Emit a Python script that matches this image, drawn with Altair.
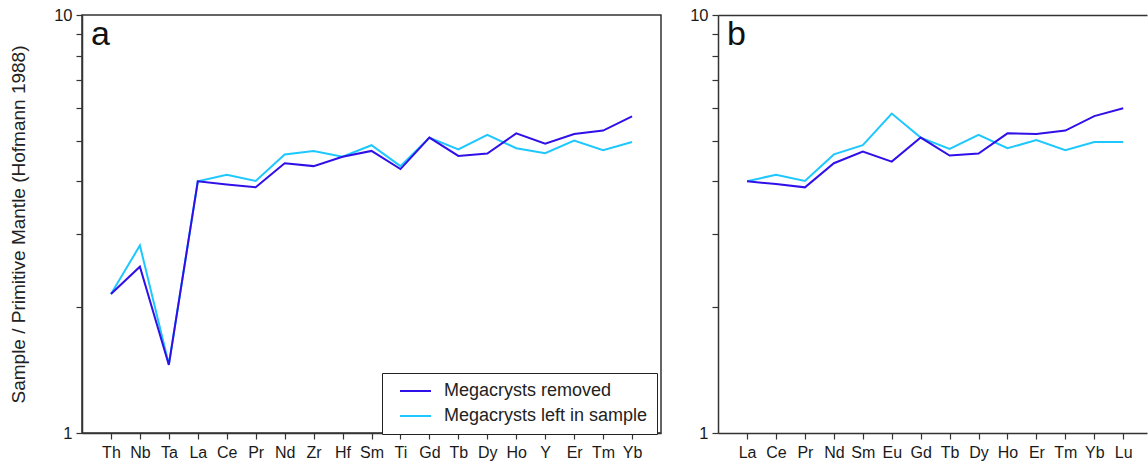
import altair as alt
import pandas as pd

# Primitive-mantle normalised trace-element diagram (a) and REE pattern (b)
elements_a = ["Th", "Nb", "Ta", "La", "Ce", "Pr", "Nd", "Zr", "Hf", "Sm",
              "Ti", "Gd", "Tb", "Dy", "Ho", "Y", "Er", "Tm", "Yb"]
removed_a = [2.15, 2.50, 1.455, 4.00, 3.93, 3.87, 4.42, 4.35, 4.58, 4.73,
             4.28, 5.09, 4.60, 4.66, 5.21, 4.92, 5.19, 5.29, 5.72]
left_a = [2.15, 2.81, 1.46, 4.00, 4.15, 4.01, 4.64, 4.73, 4.58, 4.88,
          4.35, 5.09, 4.77, 5.17, 4.80, 4.67, 5.01, 4.75, 4.97]

elements_b = ["La", "Ce", "Pr", "Nd", "Sm", "Eu", "Gd", "Tb", "Dy", "Ho",
              "Er", "Tm", "Yb", "Lu"]
removed_b = [4.00, 3.94, 3.87, 4.42, 4.71, 4.46, 5.09, 4.61, 4.66, 5.21,
             5.19, 5.29, 5.73, 5.98]
left_b = [4.00, 4.15, 4.01, 4.64, 4.88, 5.81, 5.09, 4.78, 5.17, 4.80,
          5.02, 4.75, 4.97, 4.97]

series = ["Megacrysts removed", "Megacrysts left in sample"]
series_colors = ["#3010e8", "#1ec8ff"]
y_ticks = [1, 2, 3, 4, 5, 6, 7, 8, 9, 10]
y_title = "Sample / Primitive Mantle (Hofmann 1988)"


def to_long(elements, removed, left):
    rows = []
    for i, el in enumerate(elements):
        rows.append({"element": el, "idx": i, "series": series[0], "value": removed[i]})
        rows.append({"element": el, "idx": i, "series": series[1], "value": left[i]})
    return pd.DataFrame(rows)


def panel(elements, removed, left, letter, width, x_scale, first):
    df = to_long(elements, removed, left)
    x_bottom = alt.X("element:N", sort=elements, scale=x_scale,
                     axis=alt.Axis(title=None, labelAngle=0, labelPadding=5,
                                   labelFontSize=16))
    x_top = alt.X("element:N", sort=elements, scale=x_scale,
                  axis=alt.Axis(title=None, orient="top", labels=False,
                                ticks=False, domain=True))
    y = alt.Y("value:Q",
              scale=alt.Scale(type="log", domain=[1, 10], nice=False),
              axis=alt.Axis(values=y_ticks,
                            labelExpr="datum.value == 1 || datum.value == 10 ? format(datum.value, 'd') : ''",
                            labelFontSize=16.5, labelPadding=4,
                            title=y_title if first else None,
                            titleFontSize=19, titleFontWeight="normal",
                            titlePadding=25, titleColor="#222"))
    if first:
        legend = alt.Legend(title=None, orient="none", legendX=300, legendY=358,
                            direction="vertical", symbolType="stroke",
                            symbolSize=961, symbolStrokeWidth=2,
                            symbolOffset=8, clipHeight=18,
                            labelFontSize=18, labelOffset=12, labelColor="#222",
                            labelLimit=0, padding=9, rowPadding=7,
                            strokeColor="#222", fillColor="white",
                            cornerRadius=0)
    else:
        legend = None
    color = alt.Color("series:N", scale=alt.Scale(domain=series, range=series_colors),
                      legend=legend)
    base = alt.Chart(df).encode(x=x_bottom, y=y, color=color, order=alt.Order("idx:Q"))
    light = base.transform_filter(alt.datum.series == series[1]).mark_line(strokeWidth=2)
    dark = base.transform_filter(alt.datum.series == series[0]).mark_line(strokeWidth=2)
    if not first:
        # frame line along the top of the open-ended right panel
        light = light.encode(x=x_top)
    tag = alt.Chart(pd.DataFrame({"tag": [letter]})).mark_text(
        align="left", baseline="alphabetic", fontSize=34, color="#111"
    ).encode(text="tag:N", x=alt.value(9), y=alt.value(30))
    out = alt.layer(light, dark, tag).properties(width=width, height=418)
    if not first:
        out = out.resolve_axis(x="independent").properties(
            view=alt.ViewBackground(stroke="transparent"))
    return out


pa = panel(elements_a, removed_a, left_a, "a", 579,
           alt.Scale(type="point", padding=1), True)
pb = panel(elements_b, removed_b, left_b, "b", 429,
           alt.Scale(type="point", padding=0.914, align=0.55), False)

chart = (
    alt.hconcat(pa, pb, spacing=26)
    .resolve_legend(color="independent")
    .configure(font="Liberation Sans",
               padding={"left": 8, "top": 6, "right": 0, "bottom": 0})
    .configure_view(stroke="#333", strokeWidth=1.5)
    .configure_axis(grid=False, domainColor="#333", tickColor="#333",
                    labelColor="#1a1a1a", tickSize=6, domainWidth=1.5,
                    tickWidth=1.2)
)

chart.save("out.html", embed_options={"renderer": "svg", "actions": False})
